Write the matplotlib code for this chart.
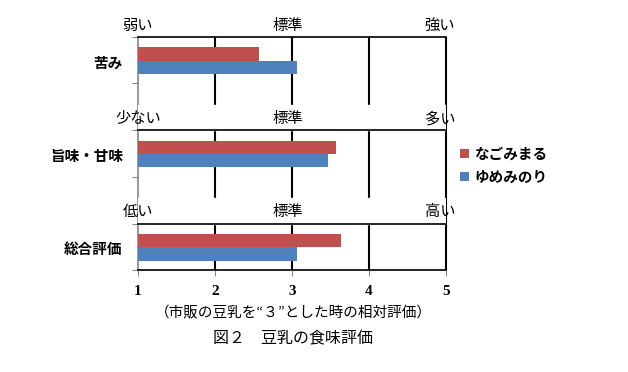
import numpy as np
import matplotlib
matplotlib.use("Agg")
import matplotlib.pyplot as plt

plt.rcParams["font.family"] = ["Noto Sans CJK JP", "DejaVu Sans"]

# data
categories = ["苦み", "旨味・甘味", "総合評価"]
series_names = ["なごみまる", "ゆめみのり"]
nagomi = [2.57, 3.57, 3.64]
yumemi = [3.07, 3.47, 3.07]
low_labels = ["弱い", "少ない", "低い"]
mid_label = "標準"
high_labels = ["強い", "多い", "高い"]
xticks = [1, 2, 3, 4, 5]
note = "（市販の豆乳を“３”とした時の相対評価）"
title = "図２　豆乳の食味評価"

RED, BLUE = "#C0504D", "#4F81BD"
GREY = "#868686"

fig = plt.figure(figsize=(6.28, 3.72), dpi=100)
W, H = 628, 372
ax = fig.add_axes([138 / W, (H - 270) / H, 308 / W, 233 / H])

pos = np.arange(len(categories))
bh = 0.143
top_off, bot_off = -0.255, 0.242   # panel edges relative to the category centre
ylo, yhi = pos[0] + top_off, pos[-1] + bot_off

base = xticks[0]
ax.barh(pos - bh / 2, np.array(nagomi) - base, height=bh, left=base, color=RED,
        label=series_names[0], zorder=3)
ax.barh(pos + bh / 2, np.array(yumemi) - base, height=bh, left=base, color=BLUE,
        label=series_names[1], zorder=3)

ax.set_xlim(1, 5)
ax.set_ylim(yhi, ylo)
for s in ax.spines.values():
    s.set_visible(False)

# gridlines
for x in xticks:
    ax.plot([x, x], [ylo, yhi], color=GREY if x == 1 else "black",
            lw=1.5 if x > 1 else 1.2, zorder=1, clip_on=False, solid_capstyle="butt")

# panel borders + white label rows
for i, c in enumerate(pos):
    t = c + top_off
    if i > 0:
        ax.axhspan(t - 0.27, t, color="white", zorder=2)
    ax.plot([1, 5], [t, t], color="black", lw=1.2, zorder=4, clip_on=False)
    ly = t - 0.125
    ax.text(1, ly, low_labels[i], ha="center", va="center", fontsize=11, zorder=5, clip_on=False)
    ax.text(2.95, ly, mid_label, ha="center", va="center", fontsize=11, zorder=5, clip_on=False)
    ax.text(4.92, ly, high_labels[i], ha="center", va="center", fontsize=11, zorder=5, clip_on=False)
ax.plot([1, 5], [yhi, yhi], color="black", lw=1.2, zorder=4, clip_on=False)

# ticks
ax.set_yticks(pos)
ax.set_yticklabels(categories, fontsize=10.5, fontweight="bold")
ax.tick_params(axis="y", which="major", length=0, pad=11)
edges = np.concatenate([pos + top_off, pos + bot_off])
ax.set_yticks(edges, minor=True)
ax.tick_params(axis="y", which="minor", length=4, color=GREY, width=0.8)
ax.set_xticks(xticks)
ax.set_xticklabels([str(x) for x in xticks], family="Liberation Serif",
                   fontweight="bold", fontsize=11)
ax.tick_params(axis="x", length=4, color=GREY, width=0.8, pad=7)

fig.legend(loc="center left", bbox_to_anchor=(447 / W, 1 - 165 / H), frameon=False,
           handlelength=0.6, handleheight=0.6, handletextpad=0.35,
           labelspacing=0.5, prop={"weight": "bold", "size": 10.5})

fig.text(293 / W, 1 - 313 / H, note, ha="center", va="center", fontsize=10.5)
fig.text(293 / W, 1 - 339 / H, title, ha="center", va="center", fontsize=11.5)

fig.savefig("out.png", dpi=100, facecolor="white")
